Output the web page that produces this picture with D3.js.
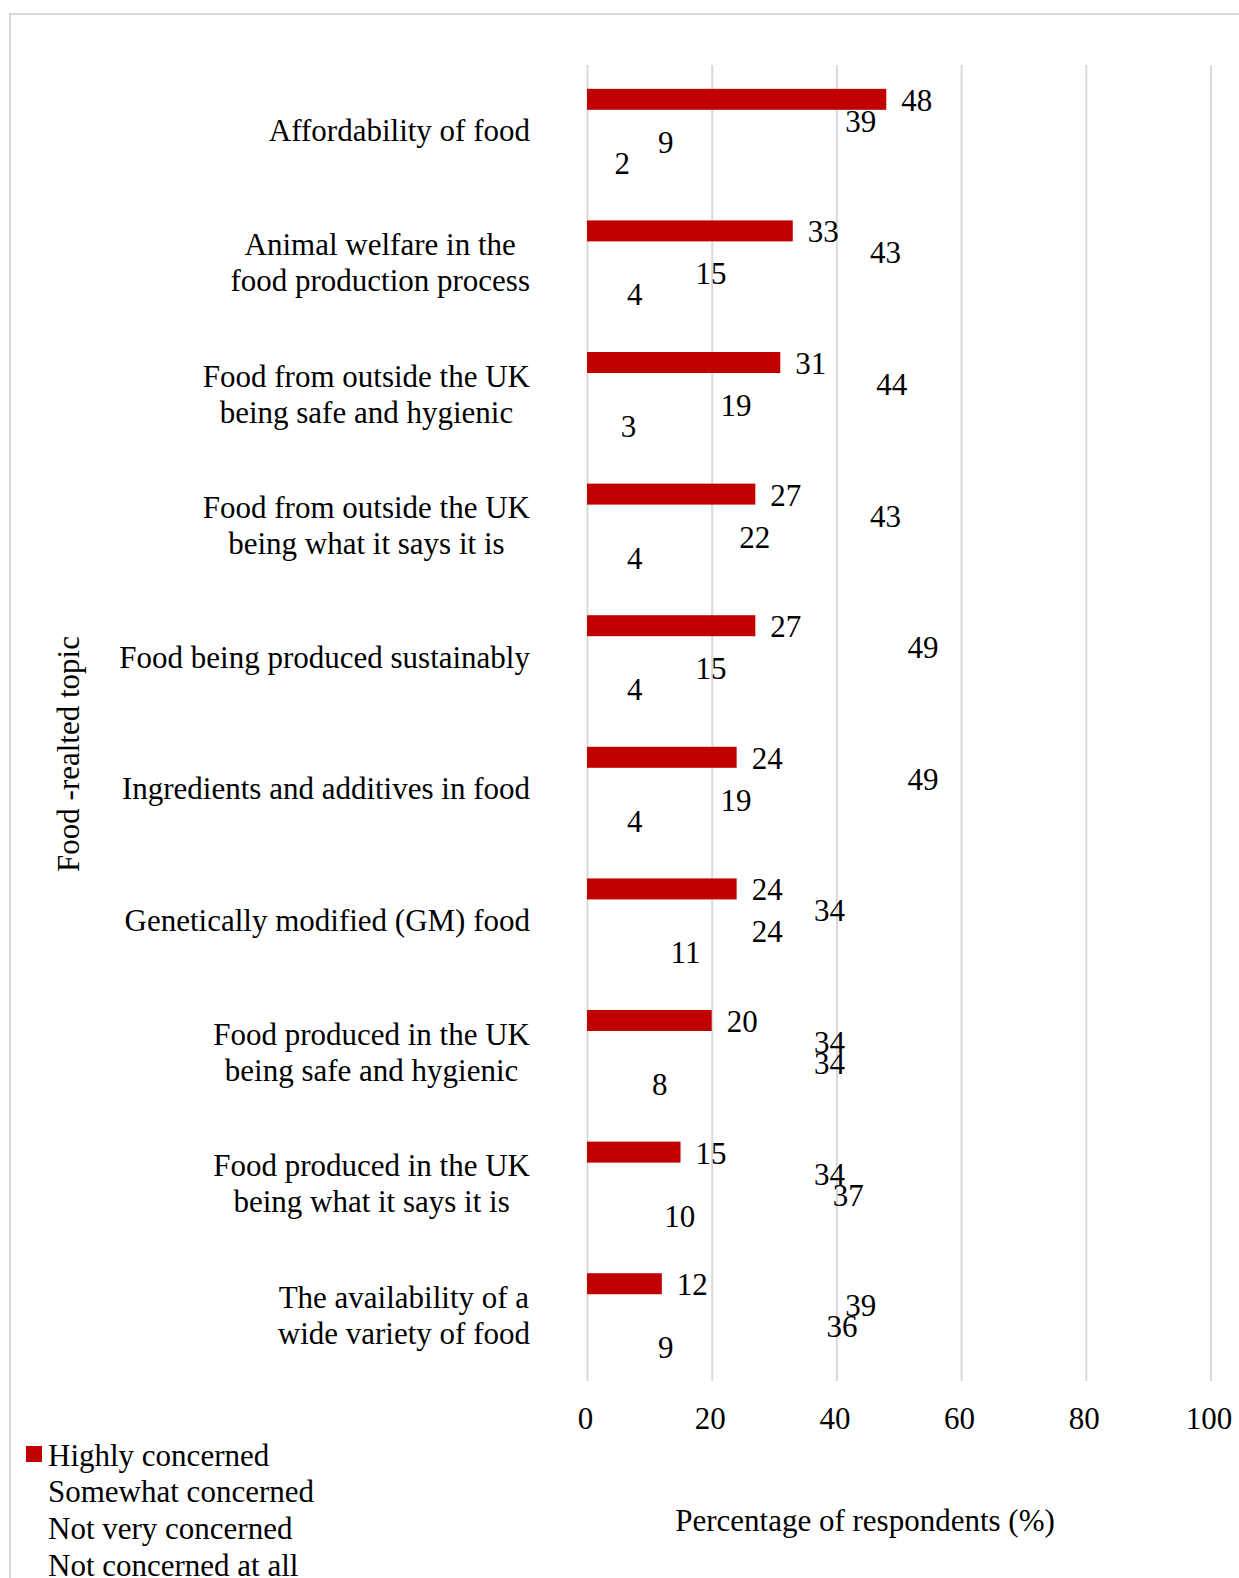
<!DOCTYPE html>
<html>
<head>
<meta charset="utf-8">
<script src="https://cdn.jsdelivr.net/npm/d3@7"></script>
<style>
  html, body { margin: 0; padding: 0; background: #ffffff; }
  svg { display: block; font-family: "Liberation Serif", "Times New Roman", serif; }
</style>
</head>
<body>
<svg id="chart" width="1239" height="1578"></svg>
<script>
// ---------- data ----------
const categories = [
  ["Affordability of food"],
  ["Animal welfare in the", "food production process"],
  ["Food from outside the UK", "being safe and hygienic"],
  ["Food from outside the UK", "being what it says it is"],
  ["Food being produced sustainably"],
  ["Ingredients and additives in food"],
  ["Genetically modified (GM) food"],
  ["Food produced in the UK", "being safe and hygienic"],
  ["Food produced in the UK", "being what it says it is"],
  ["The availability of a", "wide variety of food"]
];
const seriesNames = ["Highly concerned", "Somewhat concerned", "Not very concerned", "Not concerned at all"];
const highly    = [48, 33, 31, 27, 27, 24, 24, 20, 15, 12];
const somewhat  = [39, 43, 44, 43, 49, 49, 34, 34, 34, 39];
const notVery   = [9, 15, 19, 22, 15, 19, 24, 34, 37, 36];
const notAtAll  = [2, 4, 3, 4, 4, 4, 11, 8, 10, 9];
const xTicks = [0, 20, 40, 60, 80, 100];
const xTitle = "Percentage of respondents (%)";
const yTitle = "Food -realted topic";

// ---------- layout ----------
const seriesValues = [highly, somewhat, notVery, notAtAll];
const seriesFill = ["#C00000", "none", "none", "none"];
const FONT = 31;
const plot = { left: 587, right: 1210.5, top: 65, bottom: 1381 };

const svg = d3.select("#chart");

// outer border
svg.append("rect")
  .attr("x", 10).attr("y", 14)
  .attr("width", 1300).attr("height", 1700)
  .attr("fill", "none").attr("stroke", "#d9d9d9").attr("stroke-width", 2);

const x = d3.scaleLinear().domain([0, 100]).range([plot.left, plot.right]);
const catIdx = d3.range(categories.length);
const y = d3.scaleBand().domain(catIdx).range([plot.top, plot.bottom])
  .paddingInner(0.362).paddingOuter(0.181);
const ys = d3.scaleBand().domain(d3.range(seriesNames.length)).range([0, y.bandwidth()]).padding(0);

// gridlines
const grid = svg.append("g")
  .attr("transform", `translate(0,${plot.bottom})`)
  .call(d3.axisBottom(x).tickValues(xTicks).tickSize(-(plot.bottom - plot.top)).tickFormat(""));
grid.select(".domain").remove();
grid.selectAll(".tick line").attr("stroke", "#d9d9d9").attr("stroke-width", 2);

// x tick labels
const xa = svg.append("g")
  .attr("transform", `translate(-2,${plot.bottom})`)
  .call(d3.axisBottom(x).tickValues(xTicks).tickSize(0).tickPadding(26));
xa.select(".domain").remove();
xa.selectAll("text").attr("font-size", FONT).attr("font-family", "Liberation Serif, Times New Roman, serif").attr("fill", "#000");

// bars
const groups = svg.append("g").selectAll("g")
  .data(catIdx).join("g")
  .attr("transform", i => `translate(0,${y(i)})`);

groups.selectAll("rect")
  .data(i => seriesValues.map((s, k) => ({ k, v: s[i] })))
  .join("rect")
  .attr("x", x(0))
  .attr("y", d => ys(d.k))
  .attr("width", d => x(d.v) - x(0))
  .attr("height", ys.bandwidth())
  .attr("fill", d => seriesFill[d.k]);

// value labels
groups.selectAll("text")
  .data(i => seriesValues.map((s, k) => ({ k, v: s[i] })))
  .join("text")
  .attr("x", d => x(d.v) + 15)
  .attr("y", d => ys(d.k) + ys.bandwidth() / 2 + 1)
  .attr("dominant-baseline", "central")
  .attr("font-size", FONT)
  .attr("fill", "#000")
  .text(d => d.v);

// category labels
const lineH = 36;
const labelRight = 530;
const catLabels = svg.append("g").selectAll("text")
  .data(catIdx).join("text")
  .attr("font-size", FONT)
  .attr("fill", "#000")
  .attr("text-anchor", "middle");
catLabels.each(function(i) {
  const lines = categories[i];
  const t = d3.select(this);
  const cy = y(i) + y.bandwidth() / 2;
  lines.forEach((ln, j) => {
    t.append("tspan")
      .attr("y", cy + (j - (lines.length - 1) / 2) * lineH)
      .attr("dominant-baseline", "central")
      .text(ln);
  });
  let maxW = 0;
  t.selectAll("tspan").each(function() { maxW = Math.max(maxW, this.getComputedTextLength()); });
  t.selectAll("tspan").attr("x", labelRight - maxW / 2);
});

// axis titles
svg.append("text")
  .attr("transform", "translate(68,754) rotate(-90)")
  .attr("text-anchor", "middle")
  .attr("dominant-baseline", "central")
  .attr("font-size", FONT)
  .text(yTitle);

svg.append("text")
  .attr("x", 865).attr("y", 1520)
  .attr("text-anchor", "middle")
  .attr("dominant-baseline", "central")
  .attr("font-size", FONT)
  .text(xTitle);

// legend
const leg = svg.append("g").selectAll("g")
  .data(seriesNames).join("g")
  .attr("transform", (d, k) => `translate(26,${1454 + k * 36.8})`);
leg.append("rect")
  .attr("x", 0).attr("y", -8).attr("width", 16).attr("height", 16)
  .attr("fill", (d, k) => seriesFill[k]);
leg.append("text")
  .attr("x", 22).attr("y", 1)
  .attr("dominant-baseline", "central")
  .attr("font-size", FONT)
  .text(d => d);
</script>
</body>
</html>
